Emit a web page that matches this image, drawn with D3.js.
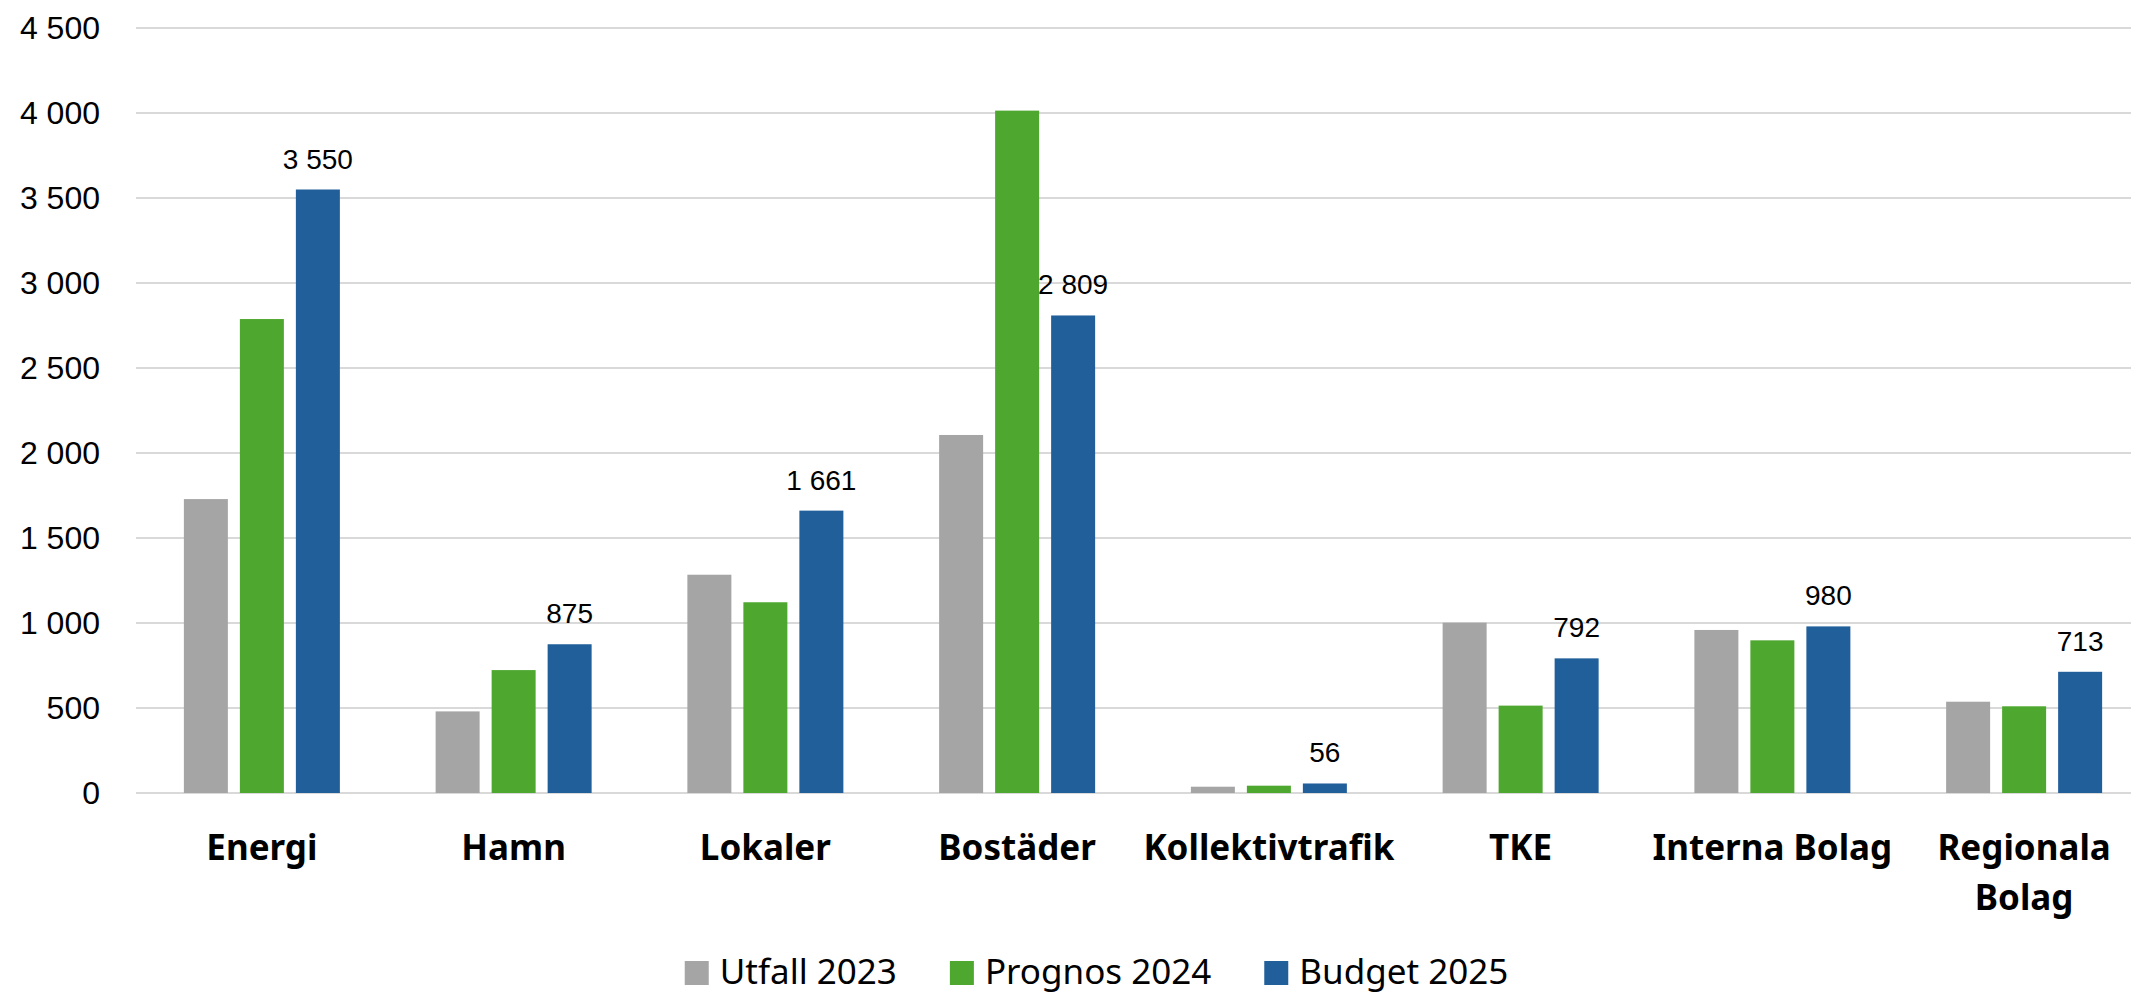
<!DOCTYPE html>
<html>
<head>
<meta charset="utf-8">
<script src="https://cdnjs.cloudflare.com/ajax/libs/d3/7.8.5/d3.min.js"></script>
<style>
  body { margin: 0; background: #fff; }
  svg { display: block; }
</style>
</head>
<body>
<svg id="svg1" width="2131" height="994"></svg>
<script>
// data
var categories = ['Energi', 'Hamn', 'Lokaler', 'Bostäder', 'Kollektivtrafik', 'TKE', 'Interna Bolag', 'Regionala Bolag'];
var seriesNames = ['Utfall 2023', 'Prognos 2024', 'Budget 2025'];
var utfall2023 = [1729, 480, 1284, 2106, 37, 1002, 959, 537];
var prognos2024 = [2788, 723, 1122, 4014, 43, 514, 898, 510];
var budget2025 = [3550, 875, 1661, 2809, 56, 792, 980, 713];
var yTicks = [0, 500, 1000, 1500, 2000, 2500, 3000, 3500, 4000, 4500];
var colors = ['#A5A5A5', '#4EA72E', '#215F9A'];

var seriesValues = [utfall2023, prognos2024, budget2025];

var width = document.getElementById('svg1').clientWidth;
var height = document.getElementById('svg1').clientHeight;

var svg = d3.select('svg');

// swedish number format, space as thousands separator
var sv = d3.formatLocale({decimal: ',', thousands: '\u00a0', grouping: [3], currency: ['', ' kr']});
var fmt = sv.format(',d');

var plotLeft = 136, plotRight = 2150;
var plotTop = 28, plotBottom = 793;

var x0 = d3.scaleBand()
    .domain(categories)
    .range([plotLeft, plotRight])
    .paddingInner(0);

// bars 44 wide with 12 px gaps
var x1 = d3.scaleBand()
    .domain(seriesNames)
    .range([0, 168])
    .paddingInner(12 / 56)
    .paddingOuter(6 / 56);

var y = d3.scaleLinear()
    .domain([0, 4500])
    .range([plotBottom, plotTop]);

var color = d3.scaleOrdinal().domain(seriesNames).range(colors);

// gridlines
svg.append('g')
    .selectAll('line')
    .data(yTicks)
    .enter()
    .append('line')
    .attr('x1', plotLeft)
    .attr('x2', plotRight)
    .attr('y1', function(d){ return y(d); })
    .attr('y2', function(d){ return y(d); })
    .attr('stroke', '#D9D9D9')
    .attr('stroke-width', 2);

// y axis labels
var yAxis = d3.axisLeft(y)
    .tickValues(yTicks)
    .tickFormat(fmt)
    .tickSize(0)
    .tickPadding(36);

svg.append('g')
    .attr('transform', 'translate(' + plotLeft + ',0)')
    .call(yAxis)
    .call(function(g){ g.select('.domain').remove(); })
    .selectAll('text')
    .attr('font-family', '"Liberation Sans", Arial, sans-serif')
    .attr('font-size', 32)
    .attr('fill', '#000');

// flatten into one row per bar
var rows = [];
categories.forEach(function(c, i){
    seriesNames.forEach(function(s, j){
        rows.push({cat: c, series: s, value: seriesValues[j][i]});
    });
});

function barX(d){
    return x0(d.cat) + (x0.bandwidth() - 168) / 2 + x1(d.series);
}

svg.append('g')
    .selectAll('rect')
    .data(rows)
    .enter()
    .append('rect')
    .attr('x', barX)
    .attr('y', function(d){ return y(d.value); })
    .attr('width', x1.bandwidth())
    .attr('height', function(d){ return y(0) - y(d.value); })
    .attr('fill', function(d){ return color(d.series); });

// value labels on the budget bars only
svg.append('g')
    .selectAll('text')
    .data(rows.filter(function(d){ return d.series === 'Budget 2025'; }))
    .enter()
    .append('text')
    .attr('x', function(d){ return barX(d) + x1.bandwidth() / 2; })
    .attr('y', function(d){ return y(d.value) - 21; })
    .attr('text-anchor', 'middle')
    .attr('font-family', '"Liberation Sans", Arial, sans-serif')
    .attr('font-size', 28)
    .attr('fill', '#000')
    .text(function(d){ return fmt(d.value); });

// category labels, wrapped when wider than the band
var catLabels = svg.append('g')
    .selectAll('text')
    .data(categories)
    .enter()
    .append('text')
    .attr('x', function(d){ return x0(d) + x0.bandwidth() / 2; })
    .attr('y', 860)
    .attr('text-anchor', 'middle')
    .attr('font-family', '"Noto Sans", sans-serif')
    .attr('font-weight', 'bold')
    .attr('font-size', 35)
    .attr('fill', '#000')
    .text(function(d){ return d; });

catLabels.each(function(d){
    var t = d3.select(this);
    if (this.getComputedTextLength() > x0.bandwidth() - 10) {
        var words = d.split(' ');
        var cx = t.attr('x');
        t.text(null);
        words.forEach(function(w, k){
            t.append('tspan')
                .attr('x', cx)
                .attr('dy', k === 0 ? 0 : 50)
                .text(w);
        });
    }
});

// legend
var legend = svg.append('g');
var lx = 0;
var items = legend.selectAll('g')
    .data(seriesNames)
    .enter()
    .append('g');

items.append('rect')
    .attr('y', 961)
    .attr('width', 24)
    .attr('height', 24)
    .attr('fill', function(d){ return color(d); });

items.append('text')
    .attr('y', 984)
    .attr('font-family', '"Noto Sans", sans-serif')
    .attr('font-size', 35)
    .attr('fill', '#000')
    .text(function(d){ return d; });

items.each(function(){
    var g = d3.select(this);
    g.attr('transform', 'translate(' + lx + ',0)');
    g.select('text').attr('x', 35);
    lx += 35 + g.select('text').node().getComputedTextLength() + 53;
});
lx -= 53;
legend.attr('transform', 'translate(' + (1096.5 - lx / 2) + ',0)');
</script>
</body>
</html>
